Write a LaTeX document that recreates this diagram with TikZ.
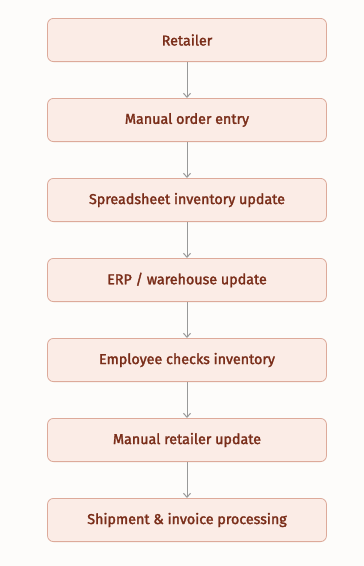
\documentclass[tikz,border=0pt]{standalone}
\usepackage{fontspec}
\setmainfont{Fira Sans}[FakeBold=2]
\usetikzlibrary{positioning,arrows.meta}
\definecolor{pagebg}{HTML}{FDFCFA}
\definecolor{boxfill}{HTML}{FBECE6}
\definecolor{boxline}{HTML}{DDAA9A}
\definecolor{boxtext}{HTML}{7A2E1A}
\definecolor{flowline}{HTML}{999999}
\tikzset{
	stepbox/.style={draw=boxline,fill=boxfill,rounded corners=6pt,line width=0.8pt,
		minimum width=279pt,minimum height=43.2pt,text=boxtext,font=\fontsize{14.3}{17}\selectfont},
	flow/.style={draw=flowline,line width=1pt,-{Straight Barb[length=4pt,width=7pt]}}
}
\begin{document}
\begin{tikzpicture}[x=1pt,y=1pt,node distance=36pt]
	\fill[pagebg] (0,0) rectangle (364,-566);
	\useasboundingbox (0,0) rectangle (364,-566);
	\node[stepbox] (retailer) at (187,-40) {Retailer};
	\node[stepbox,below=of retailer] (entry) {Manual order entry};
	\node[stepbox,below=of entry] (sheet) {Spreadsheet inventory update};
	\node[stepbox,below=of sheet] (erp) {ERP / warehouse update};
	\node[stepbox,below=of erp] (checks) {Employee checks inventory};
	\node[stepbox,below=of checks] (notify) {Manual retailer update};
	\node[stepbox,below=of notify] (invoice) {Shipment \& invoice processing};
	\draw[flow] (retailer)--(entry);
	\draw[flow] (entry)--(sheet);
	\draw[flow] (sheet)--(erp);
	\draw[flow] (erp)--(checks);
	\draw[flow] (checks)--(notify);
	\draw[flow] (notify)--(invoice);
\end{tikzpicture}
\end{document}
